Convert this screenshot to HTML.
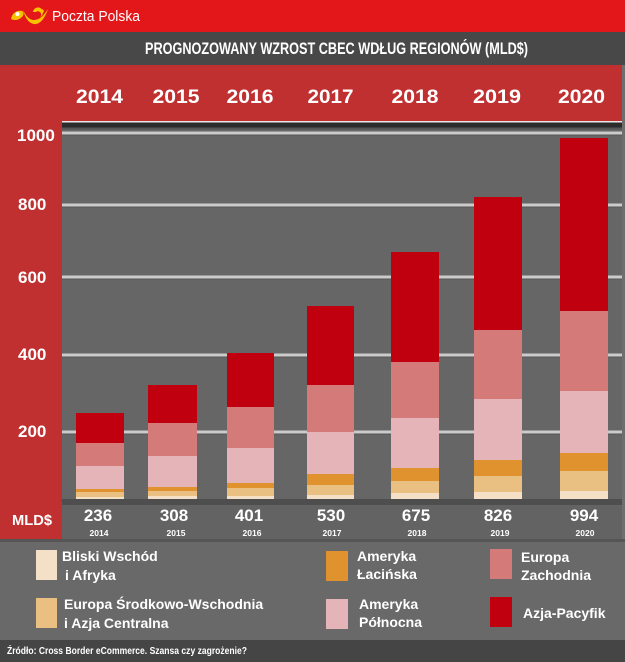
<!DOCTYPE html>
<html>
<head>
<meta charset="utf-8">
<style>
html,body{margin:0;padding:0;background:#666;}
svg{display:block;}
text{font-family:"Liberation Sans",sans-serif;fill:#fff;}
</style>
</head>
<body>
<svg width="625" height="662" viewBox="0 0 625 662" xmlns="http://www.w3.org/2000/svg">
  <!-- top red bar -->
  <rect x="0" y="0" width="625" height="32" fill="#e3161a"/>
  <!-- logo -->
  <g fill="#f6c200">
    <path d="M11 19 C12 13 17 10 22 11 C24 12 24 15 22 17 C19 20 15 21 11 19 Z"/>
    <path d="M23 10 C25 17 28 23 34 24 C40 25 45 18 48 9 C44 15 40 20 34 20 C29 20 26 16 23 10 Z"/>
    <path d="M33 12 A5 5 0 1 1 40 17 A3.2 3.2 0 1 0 36 12 Z"/>
    <circle cx="42" cy="11" r="1.8"/>
  </g>
  <circle cx="17.5" cy="14" r="2" fill="#fff"/>
  <text x="52" y="21" font-size="15" textLength="88" lengthAdjust="spacingAndGlyphs">Poczta Polska</text>

  <!-- title bar -->
  <rect x="0" y="32" width="625" height="33" fill="#484848"/>
  <text x="145" y="54" font-size="17" font-weight="bold" textLength="383" lengthAdjust="spacingAndGlyphs">PROGNOZOWANY WZROST CBEC WDŁUG REGIONÓW (MLD$)</text>

  <!-- red header / left column -->
  <rect x="0" y="65" width="622" height="57" fill="#c13030"/>
  <rect x="622" y="65" width="3" height="475" fill="#6e6e6e"/>
  <rect x="0" y="122" width="62" height="417" fill="#c13030"/>

  <!-- years header -->
  <g font-size="19" font-weight="bold" text-anchor="middle">
    <text x="99.5" y="103" textLength="47" lengthAdjust="spacingAndGlyphs">2014</text>
    <text x="176" y="103" textLength="47" lengthAdjust="spacingAndGlyphs">2015</text>
    <text x="250" y="103" textLength="47" lengthAdjust="spacingAndGlyphs">2016</text>
    <text x="330.5" y="103" textLength="46" lengthAdjust="spacingAndGlyphs">2017</text>
    <text x="415" y="103" textLength="47" lengthAdjust="spacingAndGlyphs">2018</text>
    <text x="497" y="103" textLength="48" lengthAdjust="spacingAndGlyphs">2019</text>
    <text x="581.5" y="103" textLength="47" lengthAdjust="spacingAndGlyphs">2020</text>
  </g>

  <!-- plot area -->
  <rect x="62" y="122" width="560" height="377" fill="#666666"/>
  <rect x="62" y="121" width="560" height="1.5" fill="#e8e8e8"/>
  <rect x="62" y="122.5" width="560" height="5" fill="#2c2c2c"/>
  <rect x="62" y="127.5" width="560" height="2" fill="#555"/>

  <!-- gridlines -->
  <g>
    <rect x="62" y="131.5" width="560" height="3" fill="#cbcbcb"/><rect x="62" y="134.5" width="560" height="1" fill="#555"/>
    <rect x="62" y="203.5" width="560" height="3" fill="#cbcbcb"/><rect x="62" y="206.5" width="560" height="1" fill="#555"/>
    <rect x="62" y="275.5" width="560" height="3" fill="#cbcbcb"/><rect x="62" y="278.5" width="560" height="1" fill="#555"/>
    <rect x="62" y="353.5" width="560" height="3" fill="#cbcbcb"/><rect x="62" y="356.5" width="560" height="1" fill="#555"/>
    <rect x="62" y="430.5" width="560" height="3" fill="#cbcbcb"/><rect x="62" y="433.5" width="560" height="1" fill="#555"/>
  </g>

  <!-- y-axis labels -->
  <g font-size="17" font-weight="bold">
    <text x="17" y="141">1000</text>
    <text x="18" y="210">800</text>
    <text x="18" y="283">600</text>
    <text x="18" y="360">400</text>
    <text x="18" y="437">200</text>
  </g>

  <!-- bars: AP, EZ, NA, LA, ESAC, MEA -->
  <g>
    <!-- 2014 -->
    <rect x="76" y="413" width="48" height="30" fill="#c0000e"/>
    <rect x="76" y="443" width="48" height="23" fill="#d47b79"/>
    <rect x="76" y="466" width="48" height="23" fill="#e4b4b8"/>
    <rect x="76" y="489" width="48" height="3" fill="#df922e"/>
    <rect x="76" y="492" width="48" height="5" fill="#e9bf82"/>
    <rect x="76" y="497" width="48" height="2" fill="#f4e0c6"/>
    <!-- 2015 -->
    <rect x="148" y="385" width="49" height="38" fill="#c0000e"/>
    <rect x="148" y="423" width="49" height="33" fill="#d47b79"/>
    <rect x="148" y="456" width="49" height="31" fill="#e4b4b8"/>
    <rect x="148" y="487" width="49" height="4" fill="#df922e"/>
    <rect x="148" y="491" width="49" height="5" fill="#e9bf82"/>
    <rect x="148" y="496" width="49" height="3" fill="#f4e0c6"/>
    <!-- 2016 -->
    <rect x="227" y="353" width="47" height="54" fill="#c0000e"/>
    <rect x="227" y="407" width="47" height="41" fill="#d47b79"/>
    <rect x="227" y="448" width="47" height="35" fill="#e4b4b8"/>
    <rect x="227" y="483" width="47" height="5" fill="#df922e"/>
    <rect x="227" y="488" width="47" height="8" fill="#e9bf82"/>
    <rect x="227" y="496" width="47" height="3" fill="#f4e0c6"/>
    <!-- 2017 -->
    <rect x="307" y="306" width="47" height="79" fill="#c0000e"/>
    <rect x="307" y="385" width="47" height="47" fill="#d47b79"/>
    <rect x="307" y="432" width="47" height="42" fill="#e4b4b8"/>
    <rect x="307" y="474" width="47" height="11" fill="#df922e"/>
    <rect x="307" y="485" width="47" height="10" fill="#e9bf82"/>
    <rect x="307" y="495" width="47" height="4" fill="#f4e0c6"/>
    <!-- 2018 -->
    <rect x="391" y="252" width="48" height="110" fill="#c0000e"/>
    <rect x="391" y="362" width="48" height="56" fill="#d47b79"/>
    <rect x="391" y="418" width="48" height="50" fill="#e4b4b8"/>
    <rect x="391" y="468" width="48" height="13" fill="#df922e"/>
    <rect x="391" y="481" width="48" height="12" fill="#e9bf82"/>
    <rect x="391" y="493" width="48" height="6" fill="#f4e0c6"/>
    <!-- 2019 -->
    <rect x="474" y="197" width="48" height="133" fill="#c0000e"/>
    <rect x="474" y="330" width="48" height="69" fill="#d47b79"/>
    <rect x="474" y="399" width="48" height="61" fill="#e4b4b8"/>
    <rect x="474" y="460" width="48" height="16" fill="#df922e"/>
    <rect x="474" y="476" width="48" height="16" fill="#e9bf82"/>
    <rect x="474" y="492" width="48" height="7" fill="#f4e0c6"/>
    <!-- 2020 -->
    <rect x="560" y="138" width="48" height="173" fill="#c0000e"/>
    <rect x="560" y="311" width="48" height="80" fill="#d47b79"/>
    <rect x="560" y="391" width="48" height="62" fill="#e4b4b8"/>
    <rect x="560" y="453" width="48" height="18" fill="#df922e"/>
    <rect x="560" y="471" width="48" height="20" fill="#e9bf82"/>
    <rect x="560" y="491" width="48" height="8" fill="#f4e0c6"/>
  </g>

  <!-- baseline band and number row -->
  <rect x="62" y="499" width="560" height="6" fill="#4e4e4e"/>
  <rect x="62" y="505" width="560" height="34" fill="#636363"/>
  <text x="12" y="525" font-size="15" font-weight="bold" textLength="40" lengthAdjust="spacingAndGlyphs">MLD$</text>

  <g font-size="17" font-weight="bold" text-anchor="middle">
    <text x="98" y="521">236</text>
    <text x="174" y="521">308</text>
    <text x="249" y="521">401</text>
    <text x="331" y="521">530</text>
    <text x="416" y="521">675</text>
    <text x="498" y="521">826</text>
    <text x="584" y="521">994</text>
  </g>
  <g font-size="8.5" font-weight="bold" text-anchor="middle">
    <text x="99" y="536">2014</text>
    <text x="176" y="536">2015</text>
    <text x="252" y="536">2016</text>
    <text x="332" y="536">2017</text>
    <text x="417" y="536">2018</text>
    <text x="500" y="536">2019</text>
    <text x="585" y="536">2020</text>
  </g>

  <!-- separator -->
  <rect x="0" y="539" width="625" height="3" fill="#555555"/>

  <!-- legend -->
  <rect x="0" y="542" width="625" height="98" fill="#696969"/>
  <g font-size="14" font-weight="bold">
    <rect x="36" y="550" width="21" height="30" fill="#f4e0c6"/>
    <text x="62" y="561">Bliski Wschód</text>
    <text x="65" y="580">i Afryka</text>

    <rect x="36" y="598" width="21" height="30" fill="#e9bf82"/>
    <text x="64" y="609">Europa Środkowo-Wschodnia</text>
    <text x="64" y="628">i Azja Centralna</text>

    <rect x="326" y="551" width="22" height="30" fill="#df922e"/>
    <text x="357" y="561">Ameryka</text>
    <text x="357" y="579">Łacińska</text>

    <rect x="326" y="599" width="22" height="30" fill="#e4b4b8"/>
    <text x="359" y="609">Ameryka</text>
    <text x="359" y="627">Północna</text>

    <rect x="490" y="549" width="22" height="30" fill="#d47b79"/>
    <text x="521" y="562">Europa</text>
    <text x="521" y="580">Zachodnia</text>

    <rect x="490" y="597" width="22" height="30" fill="#c0000e"/>
    <text x="523" y="618">Azja-Pacyfik</text>
  </g>

  <!-- footer -->
  <rect x="0" y="640" width="625" height="22" fill="#454545"/>
  <text x="7" y="654" font-size="10" font-weight="bold" textLength="240" lengthAdjust="spacingAndGlyphs">Źródło: Cross Border eCommerce. Szansa czy zagrożenie?</text>
</svg>
</body>
</html>
